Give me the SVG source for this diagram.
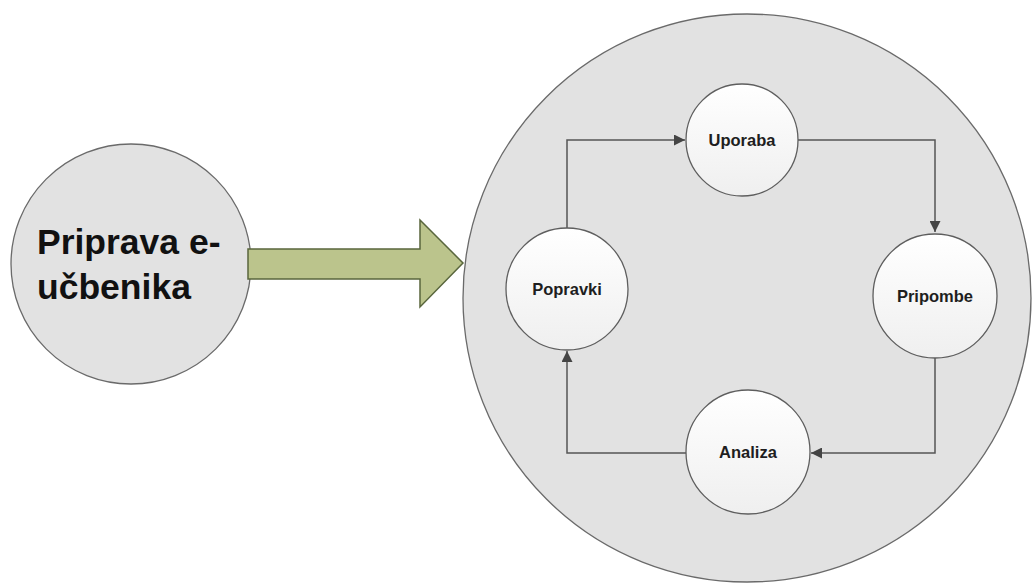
<svg xmlns="http://www.w3.org/2000/svg" width="1034" height="586" viewBox="0 0 1034 586">
  <style>
    .big { fill: #e2e2e2; stroke: #6a6a6a; stroke-width: 1.3; }
    .small { fill: url(#wg); stroke: #5e5e5e; stroke-width: 1.3; }
    .lbl { font-family: "Liberation Sans", Arial, sans-serif; font-weight: bold; font-size: 16.5px; fill: #1e1e1e; text-anchor: middle; }
    .main { font-family: "Liberation Sans", Arial, sans-serif; font-weight: bold; font-size: 35.5px; fill: #111; }
    .conn { fill: none; stroke: #555; stroke-width: 1.5; marker-end: url(#ah); }
  </style>
  <defs>
    <linearGradient id="wg" x1="0" y1="0" x2="0" y2="1">
      <stop offset="0" stop-color="#ffffff"/>
      <stop offset="1" stop-color="#efefef"/>
    </linearGradient>
    <marker id="ah" viewBox="0 0 10 10" refX="10" refY="5" markerWidth="11" markerHeight="11" markerUnits="userSpaceOnUse" orient="auto">
      <path d="M0,0 L10,5 L0,10 z" fill="#444"/>
    </marker>
  </defs>
  <rect width="1034" height="586" fill="#ffffff"/>

  <g id="node-priprava">
    <circle class="big" cx="131" cy="264" r="120"/>
    <text class="main" x="37" y="254">Priprava e-</text>
    <text class="main" x="37" y="299">učbenika</text>
  </g>

  <g id="arrow-big">
    <path d="M248,249 L420,249 L420,220 L463,263 L420,307 L420,279 L248,279 Z" fill="#bbc48c" stroke="#59663d" stroke-width="1.5"/>
  </g>

  <g id="node-cycle">
    <circle class="big" cx="747" cy="298" r="284"/>
  </g>

  <g id="connectors">
    <path class="conn" d="M567,228 L567,140 L685,140"/>
    <path class="conn" d="M798,140 L935,140 L935,232"/>
    <path class="conn" d="M935,358 L935,453 L811,453"/>
    <path class="conn" d="M686,453 L567,453 L567,351"/>
  </g>

  <g id="node-uporaba">
    <circle class="small" cx="742" cy="140" r="56"/>
    <text class="lbl" x="742" y="146">Uporaba</text>
  </g>
  <g id="node-popravki">
    <circle class="small" cx="567" cy="289" r="61"/>
    <text class="lbl" x="567" y="295">Popravki</text>
  </g>
  <g id="node-pripombe">
    <circle class="small" cx="935" cy="296" r="62"/>
    <text class="lbl" x="935" y="302">Pripombe</text>
  </g>
  <g id="node-analiza">
    <circle class="small" cx="748" cy="452" r="62"/>
    <text class="lbl" x="748" y="458">Analiza</text>
  </g>
</svg>
